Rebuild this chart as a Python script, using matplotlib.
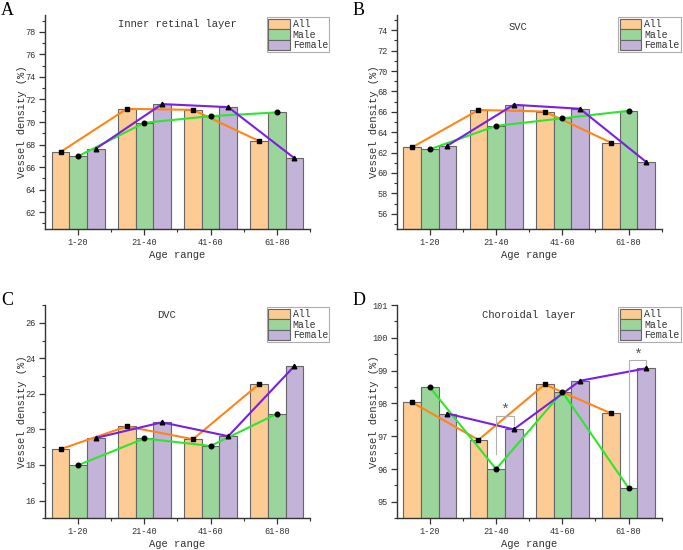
import matplotlib
matplotlib.use('Agg')
import matplotlib.pyplot as plt
import numpy as np
from matplotlib.ticker import MultipleLocator, FixedLocator

ages   = ["1-20", "21-40", "41-60", "61-80"]
groups = ["All", "Male", "Female"]

irl_all    = [67.34, 71.17, 71.08, 68.30]
irl_male   = [66.96, 69.93, 70.52, 70.85]
irl_female = [67.62, 71.59, 71.32, 66.78]

svc_all    = [62.52, 66.18, 66.03, 62.97]
svc_male   = [62.32, 64.62, 65.36, 66.10]
svc_female = [62.68, 66.69, 66.30, 61.08]

dvc_all    = [18.89, 20.17, 19.45, 22.56]
dvc_male   = [17.99, 19.49, 19.07, 20.88]
dvc_female = [19.52, 20.40, 19.62, 23.57]

cl_all    = [98.03, 96.89, 98.58, 97.70]
cl_male   = [98.49, 96.00, 98.35, 95.42]
cl_female = [97.69, 97.21, 98.69, 99.07]

# significance brackets (choroidal layer, Male vs Female)
sig_age   = [1, 3]
sig_left  = [96.45, 95.49]
sig_top   = [97.63, 99.31]
sig_right = [97.33, 99.13]

fills   = ["#FDCB94", "#9BD59B", "#C3B3D8"]
lines   = ["#FF8615", "#2EE62E", "#7A1FE6"]
markers = ["s", "o", "^"]

TXT = "#333333"
plt.rcParams['font.family'] = ['Liberation Mono', 'DejaVu Sans']
plt.rcParams['axes.edgecolor'] = "#333333"

panels = [
    dict(letter="A", title="Inner retinal layer", tx=0.50, ty=0.958,
         data=[irl_all, irl_male, irl_female], ylim=(60.5, 79.5), major=2, minor=1,
         pos=[45, 229, 265, 214]),
    dict(letter="B", title="SVC", tx=0.457, ty=0.946,
         data=[svc_all, svc_male, svc_female], ylim=(54.5, 75.5), major=2, minor=1,
         pos=[396.7, 229, 265, 214]),
    dict(letter="C", title="DVC", tx=0.459, ty=0.953,
         data=[dvc_all, dvc_male, dvc_female], ylim=(15, 27), major=2, minor=1,
         pos=[45, 518.3, 265, 213.3]),
    dict(letter="D", title="Choroidal layer", tx=0.499, ty=0.953,
         data=[cl_all, cl_male, cl_female], ylim=(94.5, 101), major=1, minor=0.5,
         pos=[396.7, 518.3, 265, 213.3]),
]

W, H = 683, 550
fig = plt.figure(figsize=(W / 100, H / 100), dpi=100)

x = np.arange(1, len(ages) + 1)
bw = 0.266

for p in panels:
    l, b, w, h = p["pos"]
    ax = fig.add_axes([l / W, (H - b) / H, w / W, h / H])
    for i, (vals, g) in enumerate(zip(p["data"], groups)):
        ax.bar(x + (i - 1) * bw, vals, bw, color=fills[i], edgecolor="#666666",
               linewidth=0.8, label=g, zorder=2)
    for i, vals in enumerate(p["data"]):
        ax.plot(x + (i - 1) * bw, vals, color=lines[i], lw=1.5, zorder=3)
        ax.plot(x + (i - 1) * bw, vals, ls="none", marker=markers[i], color="black",
                markersize=3.3, zorder=4)

    if p["letter"] == "D":
        for a, y0, yt, y1 in zip(sig_age, sig_left, sig_top, sig_right):
            xa = x[a]
            xb = x[a] + bw
            ax.plot([xa, xa, xb, xb], [y0, yt, yt, y1], color="#B0B0B0", lw=0.8, zorder=3)
            ax.text((xa + xb) / 2, yt - 0.05, "*", ha="center", va="bottom",
                    fontsize=11, color="#555555")

    ax.set_xlim(0.5, 4.5)
    ax.set_ylim(*p["ylim"])
    ax.set_xticks(x)
    ax.set_xticklabels(ages)
    ax.xaxis.set_minor_locator(FixedLocator([1.5, 2.5, 3.5, 4.5]))
    ax.yaxis.set_major_locator(MultipleLocator(p["major"]))
    ax.yaxis.set_minor_locator(MultipleLocator(p["minor"]))
    if p["letter"] == "D":
        ax.set_yticks([95, 96, 97, 98, 99, 100, 101])
    for s in ["top", "right"]:
        ax.spines[s].set_visible(False)
    for s in ["left", "bottom"]:
        ax.spines[s].set_linewidth(1.0)
    ax.tick_params(which="major", direction="out", length=4, width=0.9,
                   labelsize=6.2, labelcolor=TXT, color="#333333", pad=2.5)
    ax.tick_params(which="minor", direction="out", length=2.2, width=0.8, color="#333333")

    ax.set_xlabel("Age range", fontsize=7.6, color=TXT)
    ax.set_ylabel("Vessel density (%)", fontsize=7.6, color=TXT)
    ax.xaxis.set_label_coords(0.5, -0.099)
    ax.yaxis.set_label_coords(-0.068, 0.5)

    ax.text(p["tx"], p["ty"], p["title"], transform=ax.transAxes, ha="center",
            va="center", fontsize=7.6, color=TXT)

    leg = ax.legend(loc="upper left", bbox_to_anchor=(0.836, 0.99), fontsize=7.1,
                    frameon=True, fancybox=False, borderpad=0.15, labelspacing=0.0,
                    handlelength=2.2, handleheight=1.25, handletextpad=0.3,
                    borderaxespad=0)
    leg.get_frame().set_edgecolor("#999999")
    leg.get_frame().set_linewidth(0.8)
    for t in leg.get_texts():
        t.set_color(TXT)

    fig.text((l - 44) / W, (H - b + h + 13) / H, p["letter"], fontsize=13,
             family="Liberation Serif", ha="left", va="top", color="black")

plt.savefig("out.png", dpi=100)
